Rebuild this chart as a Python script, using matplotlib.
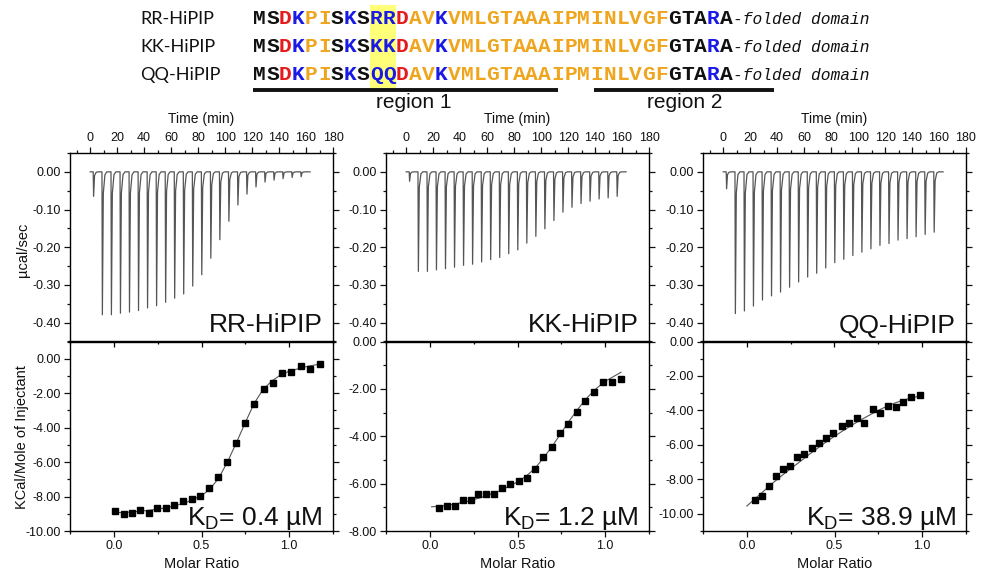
import matplotlib
matplotlib.use('Agg')
import matplotlib.pyplot as plt
from matplotlib.patches import Rectangle
from matplotlib.ticker import MultipleLocator, FormatStrFormatter

plt.rcParams['font.family'] = ['Liberation Sans', 'DejaVu Sans']
plt.rcParams['mathtext.fontset'] = 'custom'
plt.rcParams['mathtext.rm'] = 'Liberation Sans'
plt.rcParams['mathtext.it'] = 'Liberation Sans:italic'

# ---- header: sequences ----
seq_names = ['RR-HiPIP', 'KK-HiPIP', 'QQ-HiPIP']
sequences = ['MSDKPISKSRRDAVKVMLGTAAAIPMINLVGFGTARA',
             'MSDKPISKSKKDAVKVMLGTAAAIPMINLVGFGTARA',
             'MSDKPISKSQQDAVKVMLGTAAAIPMINLVGFGTARA']
# k black, r red, b blue, o orange  (one code per residue)
residue_colors = 'kkrbookbkbbroob' + 'ooooo' 'ooooo' 'ooooo' 'oo' + 'kkkbk'
mutated = [9, 10]
region1 = (0, 23.5)
region2 = (26.3, 40.2)

# ---- raw ITC data (injection times in min, peak heights in ucal/sec) ----
inj_times = [2.2, 8.7, 15.4, 22.1, 28.8, 35.5, 42.2, 48.9, 55.6, 62.3, 69.0, 75.7,
             82.4, 89.1, 95.8, 102.5, 109.2, 115.9, 122.6, 129.3, 136.0, 142.7, 149.4, 156.1]
run_end = 163
rr_peaks = [-0.065, -0.379, -0.379, -0.375, -0.372, -0.368, -0.361, -0.355, -0.346, -0.335,
            -0.324, -0.303, -0.273, -0.229, -0.180, -0.131, -0.088, -0.059, -0.040, -0.027,
            -0.022, -0.018, -0.015, -0.013]
kk_peaks = [-0.025, -0.264, -0.264, -0.260, -0.257, -0.253, -0.248, -0.245, -0.239, -0.233,
            -0.227, -0.217, -0.207, -0.189, -0.171, -0.151, -0.129, -0.107, -0.094, -0.084,
            -0.078, -0.072, -0.069, -0.065]
qq_peaks = [-0.045, -0.376, -0.369, -0.356, -0.340, -0.329, -0.319, -0.306, -0.292, -0.279,
            -0.269, -0.255, -0.241, -0.232, -0.222, -0.213, -0.204, -0.195, -0.190, -0.181,
            -0.177, -0.172, -0.166, -0.160]

# ---- integrated heats (molar ratio, kcal/mol) ----
rr_ratio = [0.009, 0.057, 0.104, 0.151, 0.198, 0.245, 0.296, 0.343, 0.392, 0.443, 0.494, 0.543,
            0.594, 0.647, 0.698, 0.749, 0.802, 0.855, 0.906, 0.958, 1.013, 1.066, 1.119, 1.175]
rr_heat = [-8.83, -8.99, -8.97, -8.80, -8.93, -8.64, -8.66, -8.47, -8.25, -8.14, -7.96, -7.48,
           -6.87, -6.00, -4.89, -3.73, -2.60, -1.75, -1.40, -0.82, -0.78, -0.43, -0.58, -0.29]
rr_fit_x = [0.0, 0.1, 0.2, 0.3, 0.4, 0.5, 0.55, 0.6, 0.65, 0.7, 0.75, 0.8, 0.85, 0.9, 0.95, 1.0, 1.1, 1.18]
rr_fit_y = [-8.95, -8.9, -8.8, -8.65, -8.4, -7.95, -7.55, -6.9, -5.95, -4.85, -3.7, -2.6,
            -1.8, -1.3, -0.95, -0.72, -0.45, -0.3]

kk_ratio = [0.052, 0.099, 0.143, 0.187, 0.233, 0.277, 0.323, 0.366, 0.414, 0.458, 0.506, 0.552,
            0.599, 0.647, 0.695, 0.742, 0.790, 0.840, 0.887, 0.939, 0.987, 1.038, 1.088]
kk_heat = [-7.01, -6.95, -6.95, -6.71, -6.71, -6.43, -6.43, -6.42, -6.18, -6.02, -5.88, -5.78,
           -5.37, -4.87, -4.44, -3.86, -3.48, -2.99, -2.50, -2.13, -1.69, -1.69, -1.58]
kk_fit_x = [0.01, 0.1, 0.2, 0.3, 0.4, 0.5, 0.55, 0.6, 0.65, 0.7, 0.75, 0.8, 0.85, 0.9, 0.95, 1.0, 1.05, 1.09]
kk_fit_y = [-6.98, -6.92, -6.78, -6.57, -6.3, -5.93, -5.68, -5.35, -4.9, -4.4, -3.85, -3.3,
            -2.8, -2.35, -1.98, -1.68, -1.47, -1.30]

qq_ratio = [0.047, 0.085, 0.126, 0.166, 0.208, 0.245, 0.287, 0.328, 0.370, 0.411, 0.453, 0.494,
            0.540, 0.581, 0.626, 0.670, 0.717, 0.758, 0.804, 0.849, 0.892, 0.938, 0.985]
qq_heat = [-9.18, -8.95, -8.37, -7.79, -7.38, -7.24, -6.70, -6.52, -6.19, -5.92, -5.59, -5.30,
           -4.91, -4.74, -4.43, -4.72, -3.94, -4.14, -3.73, -3.79, -3.51, -3.20, -3.11]
qq_fit_x = [0.0, 0.05, 0.1, 0.15, 0.2, 0.25, 0.3, 0.35, 0.4, 0.45, 0.5, 0.55, 0.6, 0.65, 0.7,
            0.75, 0.8, 0.85, 0.9, 0.95, 0.98]
qq_fit_y = [-9.55, -9.1, -8.65, -8.2, -7.78, -7.38, -7.0, -6.6, -6.22, -5.85, -5.5, -5.17,
            -4.85, -4.55, -4.27, -4.0, -3.75, -3.55, -3.38, -3.25, -3.18]

kd_labels = [r'K$_\mathrm{D}$= 0.4 µM', r'K$_\mathrm{D}$= 1.2 µM', r'K$_\mathrm{D}$= 38.9 µM']
heat_ylims = [(-10, 1), (-8, 0), (-11, 0)]

peaks = [rr_peaks, kk_peaks, qq_peaks]
ratios = [rr_ratio, kk_ratio, qq_ratio]
heats = [rr_heat, kk_heat, qq_heat]
fits = [(rr_fit_x, rr_fit_y), (kk_fit_x, kk_fit_y), (qq_fit_x, qq_fit_y)]

W, H = 987, 573
fig = plt.figure(figsize=(W / 100, H / 100), dpi=100)


def box(x0, ytop, w, h):
    return [x0 / W, 1 - (ytop + h) / H, w / W, h / H]


# overlay in pixel coordinates for the header and labels
ov = fig.add_axes([0, 0, 1, 1])
ov.set_xlim(0, W)
ov.set_ylim(H, 0)
ov.axis('off')

cmap = {'k': '#111111', 'r': '#e41a1c', 'b': '#1a1ae6', 'o': '#efa51d'}
x_seq, cw = 253, 12.97
row_y = [18.5, 46.5, 75]
ov.add_patch(Rectangle((x_seq + mutated[0] * cw, 5), cw * len(mutated), 83,
                       facecolor='#ffff78', edgecolor='none', zorder=0))
for name, seq, y in zip(seq_names, sequences, row_y):
    ov.text(140, y, name, family='Lato', fontsize=13, va='center', ha='left', color='#111111')
    for i, ch in enumerate(seq):
        ov.text(x_seq + (i + 0.5) * cw, y, ch, family='Liberation Mono', weight='bold',
                fontsize=15.3, ha='center', va='center', color=cmap[residue_colors[i]], zorder=2)
    ov.text(x_seq + len(seq) * cw, y + 1, '-folded domain', family='Liberation Mono',
            style='italic', fontsize=11.7, ha='left', va='center', color='#111111')

for (a, b), lab in zip([region1, region2], ['region 1', 'region 2']):
    xa, xb = x_seq + a * cw, x_seq + b * cw
    ov.plot([xa, xb], [89.5, 89.5], color='#111111', lw=2.8, solid_capstyle='butt')
    ov.text((xa + xb) / 2 + (8 if lab == 'region 1' else 0), 108, lab, fontsize=15,
            ha='center', va='baseline', color='#111111')

lefts = [70, 386, 703]
pw = 263
top_y, top_h = 153, 188.5
bot_y, bot_h = 341.5, 189.5
tick_kw = dict(labelsize=9, colors='#111111', width=0.9)

for k in range(3):
    x0 = lefts[k]
    # ---- raw thermogram ----
    ax = fig.add_axes(box(x0, top_y, pw, top_h))
    tx, ty = [0], [0]
    for t, d in zip(inj_times, peaks[k]):
        tx += [t, t + 0.3, t + 1.0, t + 2.2, t + 3.6]
        ty += [0, d, 0.15 * d, 0.02 * d, 0]
    tx.append(run_end)
    ty.append(0)
    ax.plot(tx, ty, color='#555555', lw=0.9)
    ax.set_xlim(-15, 180)
    ax.set_ylim(-0.45, 0.05)
    ax.xaxis.tick_top()
    ax.xaxis.set_major_locator(MultipleLocator(20))
    ax.xaxis.set_minor_locator(MultipleLocator(10))
    ax.yaxis.set_major_locator(MultipleLocator(0.1))
    ax.yaxis.set_minor_locator(MultipleLocator(0.05))
    ax.yaxis.set_major_formatter(FormatStrFormatter('%.2f'))
    ax.tick_params(which='both', direction='out', top=True, bottom=False, right=True,
                   labelright=False, labelbottom=False, **tick_kw)
    ax.tick_params(which='major', length=4.5, pad=2)
    ax.tick_params(which='minor', length=2.5)
    for s in ax.spines.values():
        s.set_linewidth(1.0)
    ax.text(1 - 10 / pw, 9 / top_h, seq_names[k], transform=ax.transAxes, fontsize=19,
            ha='right', va='baseline', color='#111111')

    # ---- integrated heats ----
    bx = fig.add_axes(box(x0, bot_y, pw, bot_h))
    bx.plot(fits[k][0], fits[k][1], color='#555555', lw=0.8)
    bx.plot(ratios[k], heats[k], 's', color='black', ms=4.6)
    bx.set_xlim(-0.25, 1.25)
    bx.set_ylim(*heat_ylims[k])
    bx.xaxis.set_major_locator(MultipleLocator(0.5))
    bx.xaxis.set_minor_locator(MultipleLocator(0.25))
    bx.yaxis.set_major_locator(MultipleLocator(2))
    bx.yaxis.set_minor_locator(MultipleLocator(1))
    bx.yaxis.set_major_formatter(FormatStrFormatter('%.2f'))
    bx.xaxis.set_major_formatter(FormatStrFormatter('%.1f'))
    bx.tick_params(which='both', direction='out', right=True, labelright=False, **tick_kw)
    bx.tick_params(which='major', length=4.5, pad=2)
    bx.tick_params(which='minor', length=2.5)
    sec = bx.secondary_xaxis('top')
    sec.xaxis.set_major_locator(MultipleLocator(0.5))
    sec.xaxis.set_minor_locator(MultipleLocator(0.25))
    sec.tick_params(which='both', direction='in', labeltop=False, width=0.9)
    sec.tick_params(which='major', length=4.5)
    sec.tick_params(which='minor', length=2.5)
    sec.spines['top'].set_linewidth(1.0)
    for s in bx.spines.values():
        s.set_linewidth(1.0)
    bx.text(1 - 10 / pw, 6 / bot_h, kd_labels[k], transform=bx.transAxes, fontsize=19,
            ha='right', va='baseline', color='#111111')

    ov.text(x0 + pw / 2, 119, 'Time (min)', fontsize=10, ha='center', va='center', color='#111111')
    ov.text(x0 + pw / 2, 564, 'Molar Ratio', fontsize=10.5, ha='center', va='center', color='#111111')

ov.text(23, 250, 'µcal/sec', fontsize=10.5, rotation=90, ha='center', va='center', color='#111111')
ov.text(22, 437, 'KCal/Mole of Injectant', fontsize=10.5, rotation=90, ha='center', va='center',
        color='#111111')

fig.savefig('out.png', dpi=100)
